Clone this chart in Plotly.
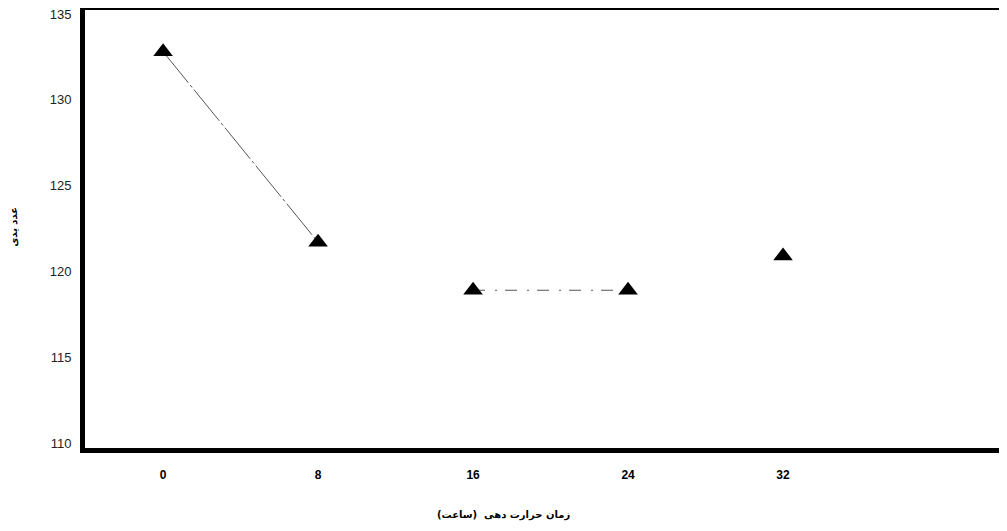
import plotly.graph_objects as go

# Data
hours = [0, 8, 16, 24, 32]
iodine_value = [132.8, 121.7, 118.9, 118.9, 120.9]
# pairs of points joined by a connecting segment in the original
segments = [(0, 1), (2, 3)]
segment_dash = ["40px,3px,3px,3px", "12px,10px,2px,8px"]

x_tick_vals = [0, 8, 16, 24, 32]
y_tick_vals = [110, 115, 120, 125, 130, 135]

x_title = "زمان حرارت دهی  (ساعت)"
y_title = "عدد یدی"

fig = go.Figure()

for (a, b), dash in zip(segments, segment_dash):
    fig.add_trace(go.Scatter(
        x=[hours[a], hours[b]], y=[iodine_value[a], iodine_value[b]],
        mode="lines", line=dict(color="#555555", width=1, dash=dash),
        showlegend=False, hoverinfo="skip"))

fig.add_trace(go.Scatter(
    x=hours, y=iodine_value, mode="markers",
    marker=dict(symbol="triangle-up", size=17, color="black"),
    showlegend=False))

fig.update_layout(
    width=999, height=523,
    margin=dict(l=77, r=0, t=2, b=83),
    paper_bgcolor="white", plot_bgcolor="white",
    font=dict(family="Liberation Sans, Arial, sans-serif", color="black"),
    annotations=[
        dict(text=x_title, xref="paper", yref="paper", x=0.4534, y=-0.153,
             xanchor="center", yanchor="middle", showarrow=False,
             font=dict(family="DejaVu Sans", size=10, weight="bold")),
        dict(text=y_title, xref="paper", yref="paper", x=-0.077, y=0.505,
             xanchor="center", yanchor="middle", showarrow=False, textangle=-90,
             font=dict(family="DejaVu Sans", size=10, weight="bold")),
    ],
)

fig.update_xaxes(
    range=[-4.03, 43.56], tickvals=x_tick_vals, ticks="",
    showgrid=False, zeroline=False,
    showline=True, linewidth=5, linecolor="black", mirror=True,
    tickfont=dict(family="Liberation Sans Narrow, Liberation Sans", size=12, weight="bold"),
    ticklabelstandoff=12, ticklabeloverflow="allow",
    automargin=False,
)
fig.update_yaxes(
    range=[109.71, 135.23], tickvals=y_tick_vals, ticks="",
    showgrid=False, zeroline=False,
    showline=True, linewidth=5, linecolor="black", mirror=False,
    tickfont=dict(size=13, color="#222222"), ticklabelstandoff=6,
    ticklabeloverflow="allow",
    automargin=False,
)

fig.write_html("out.html")
